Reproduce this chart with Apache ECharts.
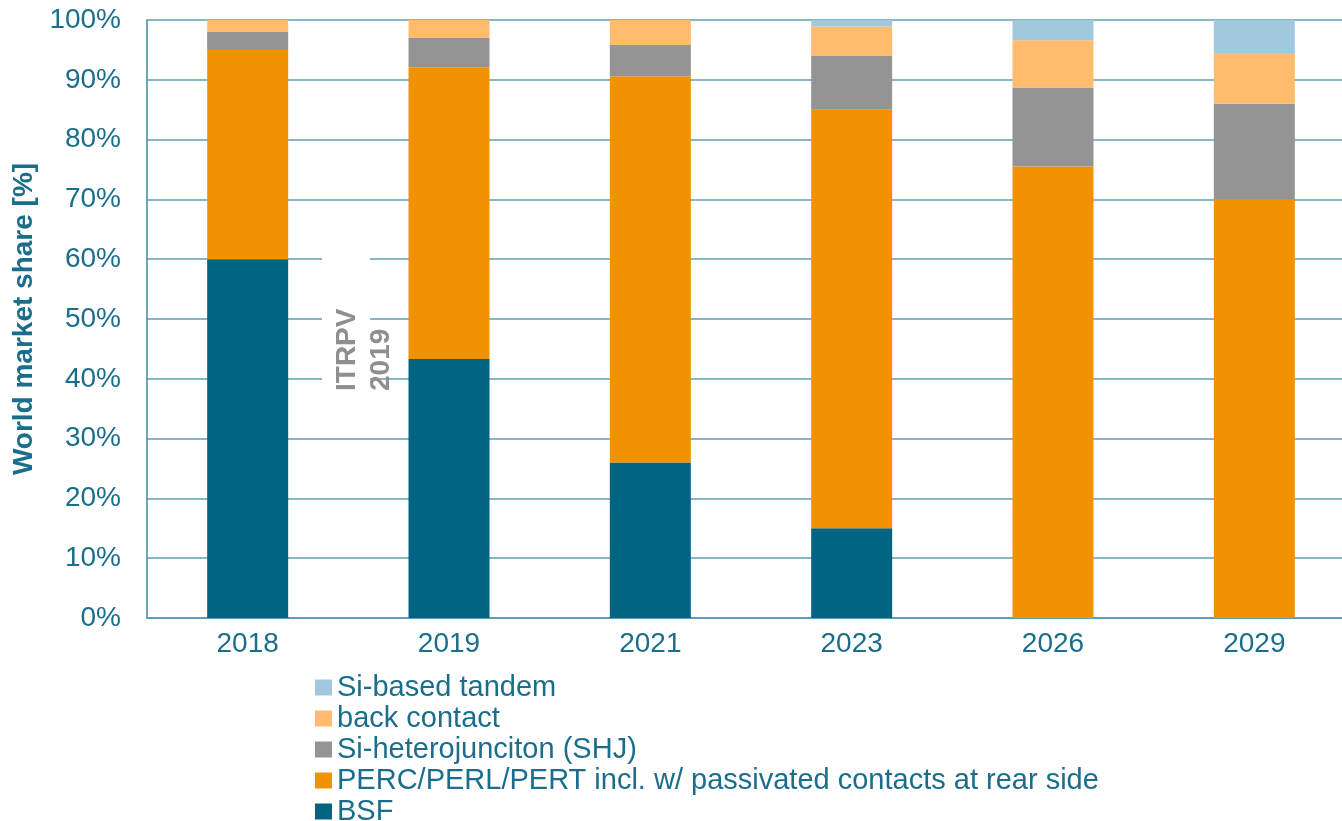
<!DOCTYPE html>
<html>
<head>
<meta charset="utf-8">
<title>World market share of cell technologies</title>
<script src="https://cdn.jsdelivr.net/npm/echarts@6/dist/echarts.min.js"></script>
<style>
  html, body { margin: 0; padding: 0; background: #ffffff; overflow: hidden; }
  /* the plot runs slightly past the right edge of the window */
  #chart { width: 1355px; height: 821px; }
</style>
</head>
<body>
<div id="chart"></div>
<script>
// Years on the x axis
const years = ['2018', '2019', '2021', '2023', '2026', '2029'];

// World market share per cell technology [%]
const bsf       = [60.0, 43.3, 26.0, 15.0, 0, 0];
const perc      = [35.0, 48.8, 64.6, 70.0, 75.5, 70.0];
const shj       = [3.0, 4.9, 5.2, 9.0, 13.2, 16.0];
const backCont  = [2.0, 3.0, 4.2, 4.9, 7.9, 8.5];
const tandem    = [0, 0, 0, 1.1, 3.4, 5.5];

// Axis ticks
const yTicks = [0, 10, 20, 30, 40, 50, 60, 70, 80, 90, 100];

const TEAL = '#1b6e8b';
const FONT = '"Liberation Sans", Arial, sans-serif';

const seriesDefs = [
  { name: 'BSF', data: bsf, color: '#006482' },
  { name: 'PERC/PERL/PERT incl. w/ passivated contacts at rear side', data: perc, color: '#f39200' },
  { name: 'Si-heterojunciton (SHJ)', data: shj, color: '#949494' },
  { name: 'back contact', data: backCont, color: '#ffbc6d' },
  { name: 'Si-based tandem', data: tandem, color: '#a2c8de' }
];

const chart = echarts.init(document.getElementById('chart'), null, { renderer: 'canvas' });

chart.setOption({
  backgroundColor: '#ffffff',
  animation: false,
  textStyle: { fontFamily: FONT },
  grid: { left: 147, top: 20, right: 0, height: 598, containLabel: false },
  legend: {
    orient: 'vertical',
    left: 310,
    top: 667,
    height: 200,
    itemWidth: 17,
    itemHeight: 16,
    itemGap: 0,
    icon: 'rect',
    data: seriesDefs.map(s => s.name).reverse(),
    textStyle: { color: TEAL, fontSize: 29, fontFamily: FONT, lineHeight: 31 }
  },
  xAxis: {
    type: 'category',
    data: years,
    axisLine: { lineStyle: { color: '#5c9fb3', width: 2 } },
    axisTick: { show: false },
    axisLabel: { color: TEAL, fontSize: 28, fontFamily: FONT, margin: 12 }
  },
  yAxis: {
    type: 'value',
    min: yTicks[0],
    max: yTicks[yTicks.length - 1],
    interval: 10,
    name: 'World market share [%]',
    nameLocation: 'middle',
    nameGap: 102,
    nameTextStyle: { color: TEAL, fontSize: 28, fontWeight: 'bold', fontFamily: FONT },
    axisLine: { show: true, lineStyle: { color: '#3f8aa3', width: 1.5 } },
    axisTick: { show: false },
    axisLabel: { color: TEAL, fontSize: 28, fontFamily: FONT, margin: 26, formatter: '{value}%' },
    splitLine: { show: true, lineStyle: { color: '#5c9fb3', width: 1.5 } }
  },
  series: seriesDefs.map(s => ({
    name: s.name,
    type: 'bar',
    stack: 'share',
    barWidth: 81,
    data: s.data,
    itemStyle: { color: s.color },
    z: 3
  })),
  graphic: [
    {
      type: 'rect',
      shape: { x: 322, y: 215, width: 48, height: 210 },
      style: { fill: '#ffffff' },
      z: 2
    },
    {
      type: 'text',
      x: 330,
      y: 391,
      rotation: Math.PI / 2,
      style: {
        text: 'ITRPV\n2019',
        fill: '#8f8f8f',
        font: 'bold 28px "Liberation Sans", Arial, sans-serif',
        lineHeight: 34,
        textAlign: 'left',
        textVerticalAlign: 'top'
      },
      z: 10
    }
  ]
});
</script>
</body>
</html>
